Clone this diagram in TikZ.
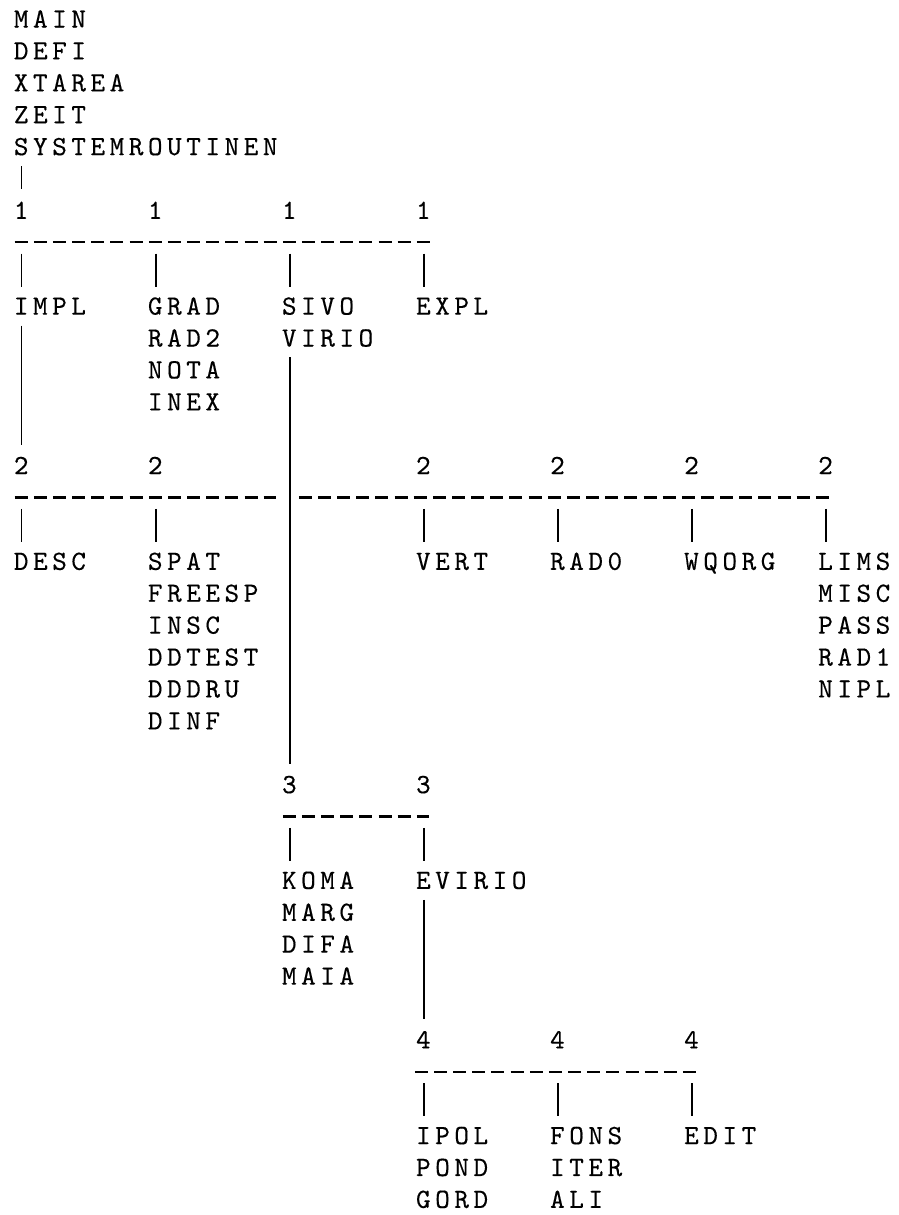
\documentclass[tikz,border=0pt]{standalone}
\usepackage{fontspec}
\newfontfamily\printfont{lmmono10-regular.otf}[LetterSpace=16.4,FakeBold=0.3]
\usepackage{tikz}
\usetikzlibrary{calc}

\tikzset{
  lbl/.style={anchor=west, inner sep=0pt, text height=17pt, text depth=0pt,
    font={\printfont\fontsize{27.8pt}{32pt}\selectfont}},
  bar/.style={draw, line width=1.5pt},
  stem/.style={bar, shorten <=10.7pt, shorten >=12.3pt},
  drop/.style={bar, shorten <=34.5pt, shorten >=10.5pt},
  rail/.style={draw, line width=2.2pt, dash pattern=on 13pt off 6.15pt}
}

\begin{document}
\begin{tikzpicture}[x=19.15pt, y=-31.9pt]
    \useasboundingbox (-0.715,-0.596) rectangle (46.18,37.49);

    \node[lbl] (main) at (0,0) {MAIN};
    \node[lbl] (defi) at (0,1) {DEFI};
    \node[lbl] (xtarea) at (0,2) {XTAREA};
    \node[lbl] (zeit) at (0,3) {ZEIT};
    \node[lbl] (sysr) at (0,4) {SYSTEMROUTINEN};

    \node[lbl] (d1a) at (0,6) {1};
    \node[lbl] (d1b) at (7,6) {1};
    \node[lbl] (d1c) at (14,6) {1};
    \node[lbl] (d1d) at (21,6) {1};
    \draw[stem] ([xshift=8pt]sysr.south west) -- ([xshift=8pt]d1a.north west);
    \draw[rail] ([xshift=1pt,yshift=-31.9pt]d1a.west) -- ([xshift=16pt,yshift=-31.9pt]d1d.west);

    \node[lbl] (impl) at (0,9) {IMPL};
    \node[lbl] (grad) at (7,9) {GRAD};
    \node[lbl] (rad2) at (7,10) {RAD2};
    \node[lbl] (nota) at (7,11) {NOTA};
    \node[lbl] (inex) at (7,12) {INEX};
    \node[lbl] (sivo) at (14,9) {SIVO};
    \node[lbl] (virio) at (14,10) {VIRIO};
    \node[lbl] (expl) at (21,9) {EXPL};
    \draw[drop] ([xshift=8pt]d1a.south west) -- ([xshift=8pt]impl.north west);
    \draw[drop] ([xshift=8pt]d1b.south west) -- ([xshift=8pt]grad.north west);
    \draw[drop] ([xshift=8pt]d1c.south west) -- ([xshift=8pt]sivo.north west);
    \draw[drop] ([xshift=8pt]d1d.south west) -- ([xshift=8pt]expl.north west);

    \node[lbl] (d2a) at (0,14) {2};
    \node[lbl] (d2b) at (7,14) {2};
    \node[lbl] (d2c) at (21,14) {2};
    \node[lbl] (d2d) at (28,14) {2};
    \node[lbl] (d2e) at (35,14) {2};
    \node[lbl] (d2f) at (42,14) {2};
    \draw[stem] ([xshift=8pt]impl.south west) -- ([xshift=8pt]d2a.north west);
    \coordinate (cut) at (d2a.west -| virio.west);
    \draw[rail] ([xshift=1pt,yshift=-31.9pt]d2a.west) -- ([xshift=-6pt,yshift=-31.9pt]cut);
    \draw[rail] ([xshift=17pt,yshift=-31.9pt]cut) -- ([xshift=16pt,yshift=-31.9pt]d2f.west);

    \node[lbl] (desc) at (0,17) {DESC};
    \node[lbl] (spat) at (7,17) {SPAT};
    \node[lbl] (freesp) at (7,18) {FREESP};
    \node[lbl] (insc) at (7,19) {INSC};
    \node[lbl] (ddtest) at (7,20) {DDTEST};
    \node[lbl] (dddru) at (7,21) {DDDRU};
    \node[lbl] (dinf) at (7,22) {DINF};
    \node[lbl] (vert) at (21,17) {VERT};
    \node[lbl] (rado) at (28,17) {RAD0};
    \node[lbl] (wqorg) at (35,17) {WQORG};
    \node[lbl] (lims) at (42,17) {LIMS};
    \node[lbl] (misc) at (42,18) {MISC};
    \node[lbl] (pass) at (42,19) {PASS};
    \node[lbl] (rad1) at (42,20) {RAD1};
    \node[lbl] (nipl) at (42,21) {NIPL};
    \draw[drop] ([xshift=8pt]d2a.south west) -- ([xshift=8pt]desc.north west);
    \draw[drop] ([xshift=8pt]d2b.south west) -- ([xshift=8pt]spat.north west);
    \draw[drop] ([xshift=8pt]d2c.south west) -- ([xshift=8pt]vert.north west);
    \draw[drop] ([xshift=8pt]d2d.south west) -- ([xshift=8pt]rado.north west);
    \draw[drop] ([xshift=8pt]d2e.south west) -- ([xshift=8pt]wqorg.north west);
    \draw[drop] ([xshift=8pt]d2f.south west) -- ([xshift=8pt]lims.north west);

    \node[lbl] (d3a) at (14,24) {3};
    \node[lbl] (d3b) at (21,24) {3};
    \draw[stem] ([xshift=8pt]virio.south west) -- ([xshift=8pt]d3a.north west);
    \draw[rail] ([xshift=1pt,yshift=-31.9pt]d3a.west) -- ([xshift=13pt,yshift=-31.9pt]d3b.west);

    \node[lbl] (koma) at (14,27) {KOMA};
    \node[lbl] (marg) at (14,28) {MARG};
    \node[lbl] (difa) at (14,29) {DIFA};
    \node[lbl] (maia) at (14,30) {MAIA};
    \node[lbl] (evirio) at (21,27) {EVIRIO};
    \draw[drop] ([xshift=8pt]d3a.south west) -- ([xshift=8pt]koma.north west);
    \draw[drop] ([xshift=8pt]d3b.south west) -- ([xshift=8pt]evirio.north west);

    \node[lbl] (d4a) at (21,32) {4};
    \node[lbl] (d4b) at (28,32) {4};
    \node[lbl] (d4c) at (35,32) {4};
    \draw[stem] ([xshift=8pt]evirio.south west) -- ([xshift=8pt]d4a.north west);
    \draw[rail] ([xshift=-1pt,yshift=-31.9pt]d4a.west) -- ([xshift=15pt,yshift=-31.9pt]d4c.west);

    \node[lbl] (ipol) at (21,35) {IPOL};
    \node[lbl] (pond) at (21,36) {POND};
    \node[lbl] (gord) at (21,37) {GORD};
    \node[lbl] (fons) at (28,35) {FONS};
    \node[lbl] (iter) at (28,36) {ITER};
    \node[lbl] (ali) at (28,37) {ALI};
    \node[lbl] (edit) at (35,35) {EDIT};
    \draw[drop] ([xshift=8pt]d4a.south west) -- ([xshift=8pt]ipol.north west);
    \draw[drop] ([xshift=8pt]d4b.south west) -- ([xshift=8pt]fons.north west);
    \draw[drop] ([xshift=8pt]d4c.south west) -- ([xshift=8pt]edit.north west);

\end{tikzpicture}
\end{document}
